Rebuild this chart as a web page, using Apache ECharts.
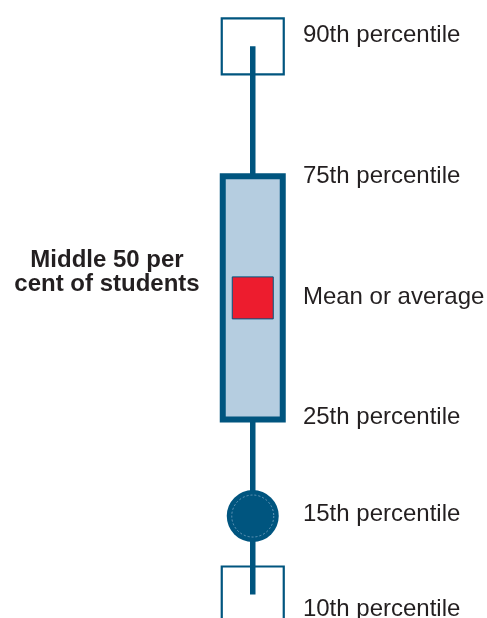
<!DOCTYPE html>
<html>
<head>
<meta charset="utf-8">
<script src="https://cdn.jsdelivr.net/npm/echarts@6/dist/echarts.min.js"></script>
<style>
  html, body { margin: 0; padding: 0; background: #ffffff; }
  #main { width: 487px; height: 618px; }
</style>
</head>
<body>
<div id="main"></div>
<script>
// schematic levels on a 0-100 vertical scale (not to scale, as in the key)
var boxX = [51.9];
var markLevels = [3.8, 16.5, 32.1, 51.8, 71.5, 92.5];   // p10, p15, p25, mean, p75, p90
var labelTexts = ['10th percentile', '15th percentile', '25th percentile', 'Mean or average', '75th percentile', '90th percentile'];
var labelLevels = [1.54, 16.94, 32.57, 51.99, 71.57, 94.5];
var labelX = [62.2];
var noteLines = ['Middle 50 per', 'cent of students'];
var noteX = [21.97];
var noteLevel = [55.9];

var DARK = '#00557f';
var FONT = '"Liberation Sans", Arial, Helvetica, sans-serif';

/**
 * 箱线图图例
 */
function renderBox(params, api) {
    var x = api.coord([api.value(0), 0])[0];
    var y = [];
    for (var i = 1; i <= 6; i++) {
        y.push(api.coord([0, api.value(i)])[1]);
    }
    var y10 = y[0], y15 = y[1], y25 = y[2], ym = y[3], y75 = y[4], y90 = y[5];
    return {
        type: 'group',
        children: [
            { type: 'line', shape: { x1: x, y1: y90, x2: x, y2: y75 }, style: { stroke: DARK, lineWidth: 5.5 } },
            { type: 'rect', shape: { x: x - 31, y: y90 - 28, width: 62, height: 56 }, style: { fill: null, stroke: DARK, lineWidth: 2.2 } },
            { type: 'line', shape: { x1: x, y1: y25, x2: x, y2: y10 }, style: { stroke: DARK, lineWidth: 5.5 } },
            { type: 'rect', shape: { x: x - 31, y: y10 - 28, width: 62, height: 56 }, style: { fill: null, stroke: DARK, lineWidth: 2.2 } },
            { type: 'rect', shape: { x: x - 30, y: y75, width: 60, height: y25 - y75 }, style: { fill: '#b5cde0', stroke: DARK, lineWidth: 6 } },
            { type: 'rect', shape: { x: x - 20.5, y: ym - 21, width: 41, height: 42 }, style: { fill: '#ed1c2e', stroke: DARK, lineWidth: 1 } },
            { type: 'circle', shape: { cx: x, cy: y15, r: 26 }, style: { fill: DARK } },
            { type: 'circle', shape: { cx: x, cy: y15, r: 21 }, style: { fill: null, stroke: '#7ea6c4', lineWidth: 0.8, lineDash: [2, 2] } }
        ]
    };
}

function renderLabel(params, api) {
    var p = api.coord([api.value(0), api.value(1)]);
    return {
        type: 'text',
        style: {
            text: labelTexts[params.dataIndex],
            x: p[0], y: p[1] + 1,
            fill: '#231f20',
            fontSize: 24, fontFamily: FONT,
            align: 'left', verticalAlign: 'middle'
        }
    };
}

function renderNote(params, api) {
    var p = api.coord([api.value(0), api.value(1)]);
    return {
        type: 'text',
        style: {
            text: noteLines.join('\n'),
            x: p[0], y: p[1],
            fill: '#231f20',
            fontSize: 24, fontWeight: 'bold', fontFamily: FONT,
            lineHeight: 24,
            align: 'center', verticalAlign: 'middle'
        }
    };
}

var myChart = echarts.init(document.getElementById('main'), null, { renderer: 'canvas' });
var labelData = [];
for (var i = 0; i < labelTexts.length; i++) {
    labelData.push([labelX[0], labelLevels[i]]);
}
myChart.setOption({
    backgroundColor: '#ffffff',
    animation: false,
    grid: { left: 0, right: 0, top: 0, bottom: 0 },
    xAxis: { type: 'value', min: 0, max: 100, show: false },
    yAxis: { type: 'value', min: 0, max: 100, show: false },
    series: [
        {
            type: 'custom',
            renderItem: renderBox,
            encode: { x: 0, y: [1, 2, 3, 4, 5, 6] },
            data: [[boxX[0]].concat(markLevels)],
            silent: true
        },
        {
            type: 'custom',
            renderItem: renderLabel,
            encode: { x: 0, y: 1 },
            data: labelData,
            silent: true
        },
        {
            type: 'custom',
            renderItem: renderNote,
            encode: { x: 0, y: 1 },
            data: [[noteX[0], noteLevel[0]]],
            silent: true
        }
    ]
});
</script>
</body>
</html>
